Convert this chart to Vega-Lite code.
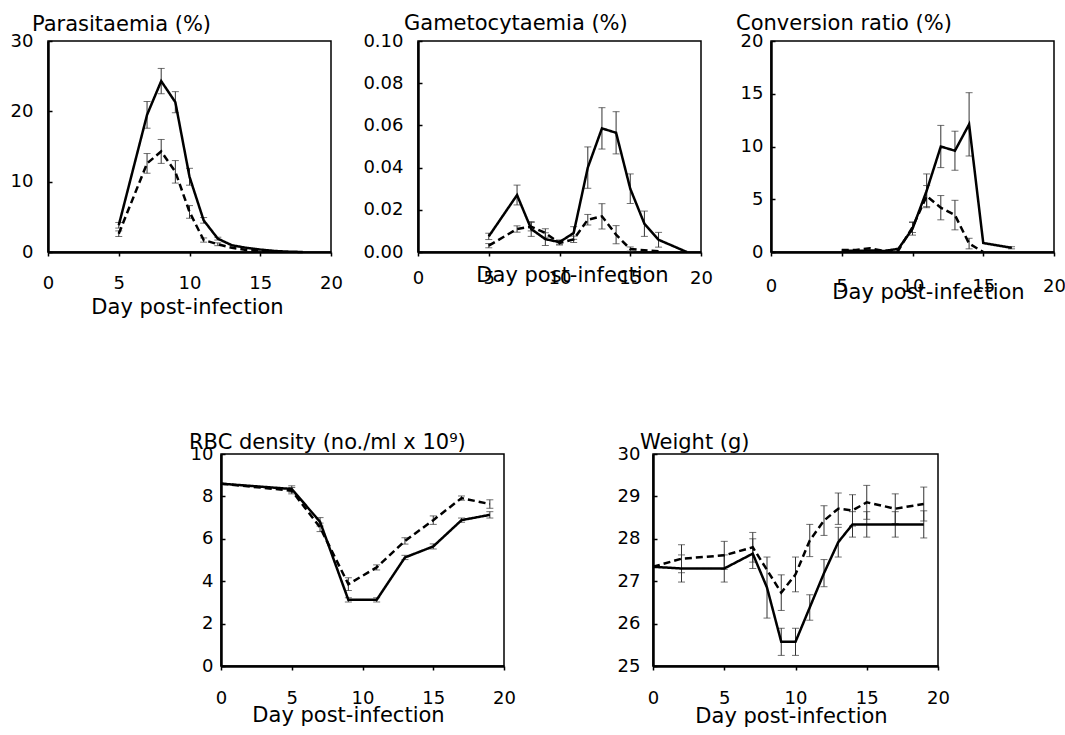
{
"$schema":"https://vega.github.io/schema/vega-lite/v6.json",
"background":"white",
"padding":{"left":9,"top":12,"right":5,"bottom":5},
"datasets":{
"p1":[
{"day":5,"g":"A","v":3.8,"lo":3.4,"hi":4.2},
{"day":7,"g":"A","v":19.5,"lo":17.6,"hi":21.4},
{"day":8,"g":"A","v":24.3,"lo":22.5,"hi":26.1},
{"day":9,"g":"A","v":21.3,"lo":19.8,"hi":22.8},
{"day":10,"g":"A","v":10.7,"lo":9.5,"hi":11.9},
{"day":11,"g":"A","v":4.5,"lo":4.1,"hi":4.9},
{"day":12,"g":"A","v":1.9,"lo":1.7,"hi":2.1},
{"day":13,"g":"A","v":0.95},
{"day":14,"g":"A","v":0.6},
{"day":15,"g":"A","v":0.35},
{"day":16,"g":"A","v":0.15},
{"day":17,"g":"A","v":0.05},
{"day":18,"g":"A","v":0},
{"day":5,"g":"B","v":2.6,"lo":2.2,"hi":3.0},
{"day":7,"g":"B","v":12.6,"lo":11.2,"hi":14.0},
{"day":8,"g":"B","v":14.3,"lo":12.6,"hi":16.0},
{"day":9,"g":"B","v":11.4,"lo":9.8,"hi":13.0},
{"day":10,"g":"B","v":5.7,"lo":4.8,"hi":6.6},
{"day":11,"g":"B","v":1.7,"lo":1.4,"hi":2.0},
{"day":12,"g":"B","v":1.1,"lo":0.9,"hi":1.3},
{"day":13,"g":"B","v":0.6},
{"day":14,"g":"B","v":0.3},
{"day":15,"g":"B","v":0.15},
{"day":16,"g":"B","v":0.05}
],
"p2":[
{"day":5,"g":"A","v":0.0074,"lo":0.0059,"hi":0.0089},
{"day":7,"g":"A","v":0.027,"lo":0.0223,"hi":0.0317},
{"day":8,"g":"A","v":0.0109,"lo":0.0074,"hi":0.0144},
{"day":9,"g":"A","v":0.0061,"lo":0.0031,"hi":0.0091},
{"day":10,"g":"A","v":0.0047,"lo":0.0037,"hi":0.0057},
{"day":11,"g":"A","v":0.009,"lo":0.006,"hi":0.012},
{"day":12,"g":"A","v":0.040,"lo":0.0302,"hi":0.0498},
{"day":13,"g":"A","v":0.0586,"lo":0.0488,"hi":0.0684},
{"day":14,"g":"A","v":0.0565,"lo":0.0465,"hi":0.0665},
{"day":15,"g":"A","v":0.030,"lo":0.023,"hi":0.037},
{"day":16,"g":"A","v":0.0134,"lo":0.0074,"hi":0.0194},
{"day":17,"g":"A","v":0.0058,"lo":0.0023,"hi":0.0093},
{"day":19,"g":"A","v":0},
{"day":5,"g":"B","v":0.003,"lo":0.002,"hi":0.004},
{"day":7,"g":"B","v":0.0109,"lo":0.0094,"hi":0.0124},
{"day":8,"g":"B","v":0.012,"lo":0.010,"hi":0.014},
{"day":9,"g":"B","v":0.009,"lo":0.007,"hi":0.011},
{"day":10,"g":"B","v":0.0043,"lo":0.0033,"hi":0.0053},
{"day":11,"g":"B","v":0.006,"lo":0.0045,"hi":0.0075},
{"day":12,"g":"B","v":0.0153,"lo":0.0128,"hi":0.0178},
{"day":13,"g":"B","v":0.0169,"lo":0.0109,"hi":0.0229},
{"day":14,"g":"B","v":0.0082,"lo":0.0039,"hi":0.0125},
{"day":15,"g":"B","v":0.0014,"lo":0.0004,"hi":0.0024},
{"day":16,"g":"B","v":0.0008},
{"day":17,"g":"B","v":0.0003}
],
"p3":[
{"day":5,"g":"A","v":0.15},
{"day":6,"g":"A","v":0.1},
{"day":7,"g":"A","v":0.15},
{"day":8,"g":"A","v":0.1},
{"day":9,"g":"A","v":0.3},
{"day":10,"g":"A","v":2.2,"lo":1.6,"hi":2.8},
{"day":11,"g":"A","v":5.8,"lo":4.2,"hi":7.4},
{"day":12,"g":"A","v":10.0,"lo":8.0,"hi":12.0},
{"day":13,"g":"A","v":9.6,"lo":7.75,"hi":11.45},
{"day":14,"g":"A","v":12.1,"lo":9.1,"hi":15.1},
{"day":15,"g":"A","v":0.85},
{"day":17,"g":"A","v":0.4,"lo":0.3,"hi":0.5},
{"day":5,"g":"B","v":0.2},
{"day":6,"g":"B","v":0.2},
{"day":7,"g":"B","v":0.35},
{"day":8,"g":"B","v":0.1},
{"day":9,"g":"B","v":0.15},
{"day":10,"g":"B","v":2.35,"lo":1.85,"hi":2.85},
{"day":11,"g":"B","v":5.3,"lo":4.3,"hi":6.3},
{"day":12,"g":"B","v":4.2,"lo":3.05,"hi":5.35},
{"day":13,"g":"B","v":3.5,"lo":2.1,"hi":4.9},
{"day":14,"g":"B","v":0.8,"lo":0.3,"hi":1.3},
{"day":15,"g":"B","v":0}
],
"p4":[
{"day":0,"g":"A","v":8.6},
{"day":5,"g":"A","v":8.35,"lo":8.2,"hi":8.5},
{"day":7,"g":"A","v":6.8,"lo":6.6,"hi":7.0},
{"day":9,"g":"A","v":3.12,"lo":3.02,"hi":3.22},
{"day":11,"g":"A","v":3.12,"lo":3.02,"hi":3.22},
{"day":13,"g":"A","v":5.12,"lo":5.02,"hi":5.22},
{"day":15,"g":"A","v":5.64,"lo":5.52,"hi":5.76},
{"day":17,"g":"A","v":6.88,"lo":6.78,"hi":6.98},
{"day":19,"g":"A","v":7.13,"lo":6.98,"hi":7.28},
{"day":0,"g":"B","v":8.6},
{"day":5,"g":"B","v":8.27,"lo":8.12,"hi":8.42},
{"day":7,"g":"B","v":6.54,"lo":6.34,"hi":6.74},
{"day":9,"g":"B","v":3.86,"lo":3.56,"hi":4.16},
{"day":11,"g":"B","v":4.65,"lo":4.53,"hi":4.77},
{"day":13,"g":"B","v":5.9,"lo":5.75,"hi":6.05},
{"day":15,"g":"B","v":6.88,"lo":6.68,"hi":7.08},
{"day":17,"g":"B","v":7.92,"lo":7.82,"hi":8.02},
{"day":19,"g":"B","v":7.64,"lo":7.44,"hi":7.84}
],
"p5":[
{"day":0,"g":"A","v":27.34},
{"day":2,"g":"A","v":27.3,"lo":26.98,"hi":27.62},
{"day":5,"g":"A","v":27.3,"lo":26.98,"hi":27.62},
{"day":7,"g":"A","v":27.65,"lo":27.3,"hi":28.0},
{"day":8,"g":"A","v":26.85,"lo":26.13,"hi":27.57},
{"day":9,"g":"A","v":25.57,"lo":25.25,"hi":25.89},
{"day":10,"g":"A","v":25.57,"lo":25.25,"hi":25.89},
{"day":11,"g":"A","v":26.38,"lo":26.08,"hi":26.68},
{"day":12,"g":"A","v":27.19,"lo":26.87,"hi":27.51},
{"day":13,"g":"A","v":27.92,"lo":27.57,"hi":28.27},
{"day":14,"g":"A","v":28.34,"lo":28.04,"hi":28.64},
{"day":15,"g":"A","v":28.34,"lo":28.04,"hi":28.64},
{"day":17,"g":"A","v":28.34,"lo":28.04,"hi":28.64},
{"day":19,"g":"A","v":28.34,"lo":28.02,"hi":28.66},
{"day":0,"g":"B","v":27.34},
{"day":2,"g":"B","v":27.53,"lo":27.2,"hi":27.86},
{"day":5,"g":"B","v":27.61,"lo":27.28,"hi":27.94},
{"day":7,"g":"B","v":27.8,"lo":27.45,"hi":28.15},
{"day":9,"g":"B","v":26.73,"lo":26.31,"hi":27.15},
{"day":10,"g":"B","v":27.16,"lo":26.75,"hi":27.57},
{"day":11,"g":"B","v":27.96,"lo":27.58,"hi":28.34},
{"day":12,"g":"B","v":28.43,"lo":28.08,"hi":28.78},
{"day":13,"g":"B","v":28.71,"lo":28.34,"hi":29.08},
{"day":14,"g":"B","v":28.67,"lo":28.3,"hi":29.04},
{"day":15,"g":"B","v":28.86,"lo":28.46,"hi":29.26},
{"day":17,"g":"B","v":28.71,"lo":28.36,"hi":29.06},
{"day":19,"g":"B","v":28.82,"lo":28.42,"hi":29.22}
]
},
"spacing":113,
"vconcat":[
{
"bounds":"flush",
"spacing":10,
"hconcat":[
{
"width":283,"height":211,
"data":{"name":"p1"},
"title":{"text":"Parasitaemia (%)","dx":-16,"dy":14,"offset":11},
"encoding":{"x":{"field":"day","type":"quantitative","scale":{"domain":[0,20],"nice":false},"axis":{"values":[0,5,10,15,20],"tickSize":4,"labelBaseline":"alphabetic","labelPadding":32,"title":"Day post-infection","titleBaseline":"alphabetic","titleX":139,"titleY":61}}},
"layer":[
{"transform":[{"filter":"isValid(datum.lo)"}],"mark":{"type":"errorbar","ticks":{"size":7},"color":"#333","thickness":1},
"encoding":{"y":{"field":"lo","type":"quantitative","scale":{"domain":[0,30],"nice":false},"axis":{"title":null,"values":[0,10,20,30],"tickSize":-4,"labelPadding":19}},"y2":{"field":"hi"}}},
{"mark":{"type":"line","color":"black","strokeWidth":2.5},
"encoding":{"y":{"field":"v","type":"quantitative","scale":{"domain":[0,30],"nice":false},"axis":{"title":null,"values":[0,10,20,30],"tickSize":-4,"labelPadding":19}},"strokeDash":{"field":"g","type":"nominal","scale":{"domain":["A","B"],"range":[[1,0],[7,4]]},"legend":null}}}
]
},
{"width":67,"height":211,"view":{"stroke":null},"data":{"values":[]},"mark":"point"},
{
"width":283,"height":211,
"data":{"name":"p2"},
"title":{"text":"Gametocytaemia  (%)","dx":-14,"dy":14,"offset":12},
"encoding":{"x":{"field":"day","type":"quantitative","scale":{"domain":[0,20],"nice":false},"axis":{"values":[0,5,10,15,20],"tickSize":4,"labelBaseline":"alphabetic","labelPadding":27,"title":"Day post-infection","titleBaseline":"alphabetic","titleX":154,"titleY":29}}},
"layer":[
{"transform":[{"filter":"isValid(datum.lo)"}],"mark":{"type":"errorbar","ticks":{"size":7},"color":"#333","thickness":1},
"encoding":{"y":{"field":"lo","type":"quantitative","scale":{"domain":[0,0.1],"nice":false},"axis":{"title":null,"values":[0,0.02,0.04,0.06,0.08,0.1],"format":".2f","tickSize":-4,"labelPadding":19}},"y2":{"field":"hi"}}},
{"mark":{"type":"line","color":"black","strokeWidth":2.5},
"encoding":{"y":{"field":"v","type":"quantitative","scale":{"domain":[0,0.1],"nice":false},"axis":{"title":null,"values":[0,0.02,0.04,0.06,0.08,0.1],"format":".2f","tickSize":-4,"labelPadding":19}},"strokeDash":{"field":"g","type":"nominal","scale":{"domain":["A","B"],"range":[[1,0],[7,4]]},"legend":null}}}
]
},
{"width":50,"height":211,"view":{"stroke":null},"data":{"values":[]},"mark":"point"},
{
"width":283,"height":211,
"data":{"name":"p3"},
"title":{"text":"Conversion ratio (%)","dx":-35,"dy":14,"offset":12},
"encoding":{"x":{"field":"day","type":"quantitative","scale":{"domain":[0,20],"nice":false},"axis":{"values":[0,5,10,15,20],"tickSize":4,"labelBaseline":"alphabetic","labelPadding":35,"title":"Day post-infection","titleBaseline":"alphabetic","titleX":157,"titleY":46}}},
"layer":[
{"transform":[{"filter":"isValid(datum.lo)"}],"mark":{"type":"errorbar","ticks":{"size":7},"color":"#333","thickness":1},
"encoding":{"y":{"field":"lo","type":"quantitative","scale":{"domain":[0,20],"nice":false},"axis":{"title":null,"values":[0,5,10,15,20],"tickSize":-4,"labelPadding":12}},"y2":{"field":"hi"}}},
{"mark":{"type":"line","color":"black","strokeWidth":2.5},
"encoding":{"y":{"field":"v","type":"quantitative","scale":{"domain":[0,20],"nice":false},"axis":{"title":null,"values":[0,5,10,15,20],"tickSize":-4,"labelPadding":12}},"strokeDash":{"field":"g","type":"nominal","scale":{"domain":["A","B"],"range":[[1,0],[7,4]]},"legend":null}}}
]
}
]
},
{
"bounds":"flush",
"spacing":10,
"hconcat":[
{"width":163,"height":212,"view":{"stroke":null},"data":{"values":[]},"mark":"point"},
{
"width":283,"height":212,
"data":{"name":"p4"},
"title":{"text":"RBC density (no./ml x 10⁹)","dx":-32,"dy":14,"offset":6},
"encoding":{"x":{"field":"day","type":"quantitative","scale":{"domain":[0,20],"nice":false},"axis":{"values":[0,5,10,15,20],"tickSize":4,"labelBaseline":"alphabetic","labelPadding":33,"title":"Day post-infection","titleBaseline":"alphabetic","titleX":127,"titleY":55}}},
"layer":[
{"transform":[{"filter":"isValid(datum.lo)"}],"mark":{"type":"errorbar","ticks":{"size":7},"color":"#333","thickness":1},
"encoding":{"y":{"field":"lo","type":"quantitative","scale":{"domain":[0,10],"nice":false},"axis":{"title":null,"values":[0,2,4,6,8,10],"tickSize":-4,"labelPadding":12}},"y2":{"field":"hi"}}},
{"mark":{"type":"line","color":"black","strokeWidth":2.5},
"encoding":{"y":{"field":"v","type":"quantitative","scale":{"domain":[0,10],"nice":false},"axis":{"title":null,"values":[0,2,4,6,8,10],"tickSize":-4,"labelPadding":12}},"strokeDash":{"field":"g","type":"nominal","scale":{"domain":["A","B"],"range":[[1,0],[7,4]]},"legend":null}}}
]
},
{"width":129,"height":212,"view":{"stroke":null},"data":{"values":[]},"mark":"point"},
{
"width":285,"height":212,
"data":{"name":"p5"},
"title":{"text":"Weight (g)","dx":-13,"dy":14,"offset":6},
"encoding":{"x":{"field":"day","type":"quantitative","scale":{"domain":[0,20],"nice":false},"axis":{"values":[0,5,10,15,20],"tickSize":4,"labelBaseline":"alphabetic","labelPadding":33,"title":"Day post-infection","titleBaseline":"alphabetic","titleX":138,"titleY":56}}},
"layer":[
{"transform":[{"filter":"isValid(datum.lo)"}],"mark":{"type":"errorbar","ticks":{"size":7},"color":"#333","thickness":1},
"encoding":{"y":{"field":"lo","type":"quantitative","scale":{"domain":[25,30],"nice":false,"zero":false},"axis":{"title":null,"values":[25,26,27,28,29,30],"tickSize":-4,"labelPadding":17}},"y2":{"field":"hi"}}},
{"mark":{"type":"line","color":"black","strokeWidth":2.5},
"encoding":{"y":{"field":"v","type":"quantitative","scale":{"domain":[25,30],"nice":false,"zero":false},"axis":{"title":null,"values":[25,26,27,28,29,30],"tickSize":-4,"labelPadding":17}},"strokeDash":{"field":"g","type":"nominal","scale":{"domain":["A","B"],"range":[[1,0],[7,4]]},"legend":null}}}
]
}
]
}
],
"config":{
"font":"DejaVu Sans",
"view":{"stroke":"black","strokeWidth":1.5},
"axis":{"domainColor":"black","domainWidth":2.5,"tickColor":"black","tickWidth":1.5,"grid":false,"labelFontSize":18,"labelColor":"black","titleFontSize":21,"titleFontWeight":"normal","titleColor":"black","labelFlush":false,"labelOverlap":false,"labelFont":"DejaVu Sans","titleFont":"DejaVu Sans"},
"title":{"fontSize":21,"fontWeight":"normal","color":"black","anchor":"start","baseline":"alphabetic","frame":"group","font":"DejaVu Sans"}
}
}
